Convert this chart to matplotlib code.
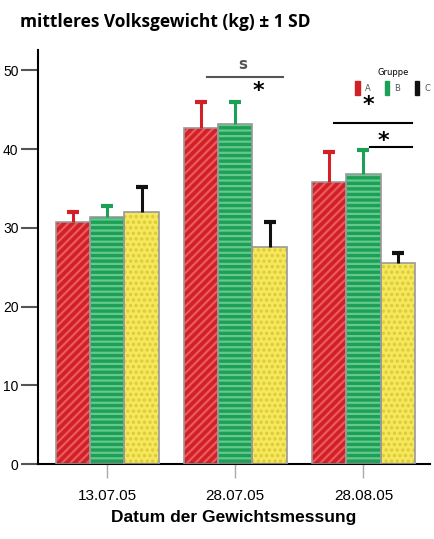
import numpy as np
import matplotlib.pyplot as plt
from matplotlib.patches import Patch

dates = ['13.07.05', '28.07.05', '28.08.05']
groups = ['A', 'B', 'C']
mean_a = [30.7, 42.7, 35.8]
mean_b = [31.4, 43.2, 36.9]
mean_c = [32.0, 27.6, 25.5]
sd_a = [1.3, 3.3, 3.8]
sd_b = [1.4, 2.8, 3.0]
sd_c = [3.2, 3.1, 1.3]

face = ['#d31f26', '#1d9f55', '#f4e85e']
hatchc = ['#ea5a5e', '#63c98f', '#e0c933']
hatches = ['////', '---', '...']
errc = ['#d31f26', '#1d9f55', '#111111']

plt.rcParams['hatch.linewidth'] = 1.6
fig = plt.figure(figsize=(4.34, 5.39), dpi=100)
ax = fig.add_axes([38/434, 75/539, 392/434, 414/539])

x = np.arange(len(dates))
w = 0.268
for i, (m, s) in enumerate(zip([mean_a, mean_b, mean_c], [sd_a, sd_b, sd_c])):
    pos = x + (i - 1) * w
    top = np.array(m) + np.array(s)
    ax.bar(pos, m, w, color=face[i], edgecolor=hatchc[i], hatch=hatches[i], linewidth=0, zorder=2)
    ax.bar(pos, m, w, fill=False, edgecolor='#999999', linewidth=1.2, zorder=3)
    ax.vlines(pos, m, top, color=errc[i], lw=2.2, zorder=4)
    ax.plot(pos, top, ls='none', marker='_', ms=8, mew=3, color=errc[i], zorder=4)

ax.set_xlim(-0.54, 2.52)
ax.set_ylim(0, 52.6)
ax.set_yticks([0, 10, 20, 30, 40, 50])
ax.set_xticks(x)
ax.set_xticklabels(dates, fontsize=11, family='Liberation Sans')
ax.tick_params(axis='y', length=12, width=1.5, labelsize=10, color='#555555', pad=2)
ax.tick_params(axis='x', length=10, width=1, color='#aaaaaa', pad=8)
for t in ax.get_yticklabels():
    t.set_family('Liberation Sans')
ax.spines['top'].set_visible(False)
ax.spines['right'].set_visible(False)
ax.spines['left'].set_linewidth(1.5)
ax.spines['bottom'].set_linewidth(1.5)
ax.set_xlabel('Datum der Gewichtsmessung', fontsize=12.5, fontweight='bold',
              family='Liberation Sans', labelpad=5)

# significance marks
ax.plot([0.78, 1.37], [49.2, 49.2], color='#555555', lw=1.5)
ax.text(1.06, 49.8, 's', ha='center', va='bottom', fontsize=11, fontweight='bold', color='#555555')
ax.text(1.18, 47.4, '*', ha='center', va='center', fontsize=16, fontweight='bold')
ax.text(2.04, 45.6, '*', ha='center', va='center', fontsize=16, fontweight='bold')
ax.plot([1.77, 2.38], [43.3, 43.3], color='black', lw=1.5)
ax.text(2.16, 41.0, '*', ha='center', va='center', fontsize=16, fontweight='bold')
ax.plot([2.05, 2.38], [40.3, 40.3], color='black', lw=1.5)

handles = [Patch(color=c) for c in errc]
leg = ax.legend(handles, groups, title='Gruppe', ncol=3, loc='upper right',
                bbox_to_anchor=(1.02, 0.975), frameon=False, fontsize=6,
                title_fontsize=6, handlelength=0.5, handleheight=2.2,
                columnspacing=1.8, handletextpad=0.6, labelcolor='#555555')

fig.text(20/434, 1 - 22/539, 'mittleres Volksgewicht (kg) \u00b1 1 SD', fontsize=12.5,
         fontweight='bold', family='Open Sans', va='center', ha='left')

fig.savefig('out.png', dpi=100)
